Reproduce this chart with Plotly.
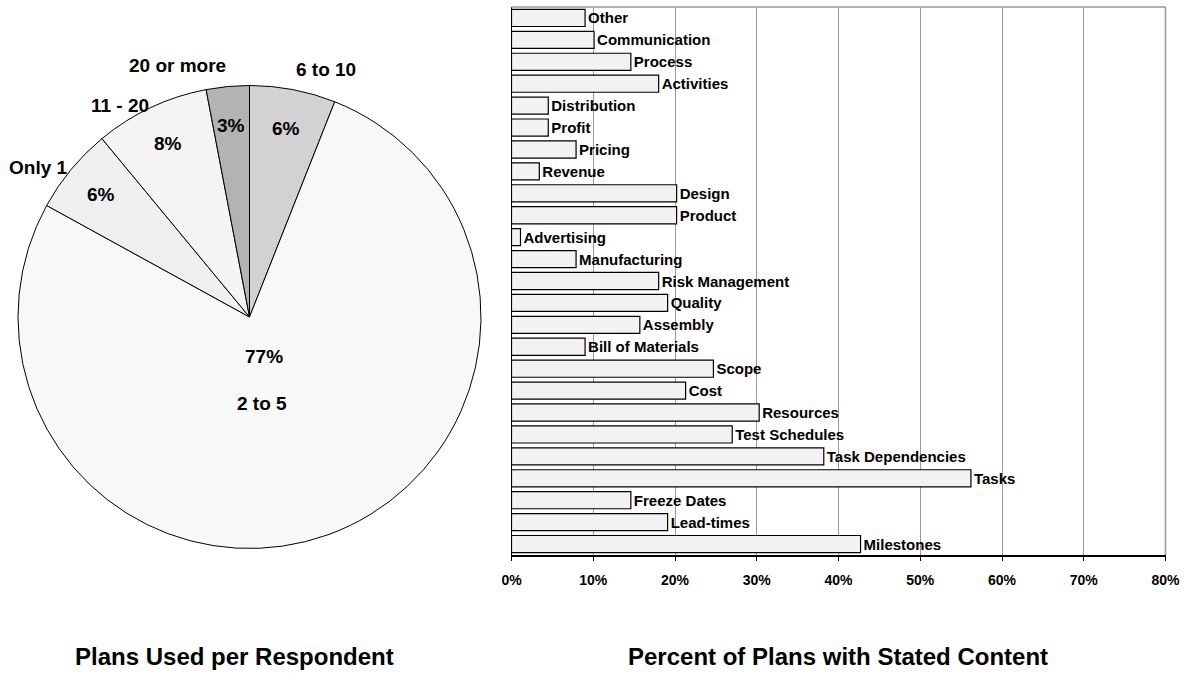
import math
import plotly.graph_objects as go

W, H = 1184, 673
FONT = "Liberation Sans, Arial, sans-serif"

# ---- pie data ----
pie_labels = ["6 to 10", "2 to 5", "Only 1", "11 - 20", "20 or more"]
pie_values = [6, 77, 6, 8, 3]
pie_colors = ["#D2D2D2", "#F8F8F8", "#EFEFEF", "#F4F4F4", "#B3B3B3"]

# ---- bar data (top to bottom) ----
bar_categories = ["Other", "Communication", "Process", "Activities", "Distribution",
                  "Profit", "Pricing", "Revenue", "Design", "Product", "Advertising",
                  "Manufacturing", "Risk Management", "Quality", "Assembly",
                  "Bill of Materials", "Scope", "Cost", "Resources", "Test Schedules",
                  "Task Dependencies", "Tasks", "Freeze Dates", "Lead-times", "Milestones"]
bar_values = [9.0, 10.1, 14.6, 18.0, 4.5, 4.5, 7.9, 3.4, 20.2, 20.2, 1.1,
              7.9, 18.0, 19.1, 15.7, 9.0, 24.7, 21.3, 30.3, 27.0,
              38.2, 56.2, 14.6, 19.1, 42.7]
x_ticks = [0, 10, 20, 30, 40, 50, 60, 70, 80]
x_ticklabels = ["0%", "10%", "20%", "30%", "40%", "50%", "60%", "70%", "80%"]

titles = ["Plans Used per Respondent", "Percent of Plans with Stated Content"]

# ---- layout geometry (pixels) ----
pie_cx, pie_cy, pie_r = 249.5, 317.0, 231.5
pie_dom_x = [(pie_cx - pie_r) / W, (pie_cx + pie_r) / W]
pie_dom_y = [1 - (pie_cy + pie_r) / H, 1 - (pie_cy - pie_r) / H]
bar_dom_x = [511.5 / W, 1165.5 / W]
bar_dom_y = [1 - 555.0 / H, 1 - 7.0 / H]

fig = go.Figure()

fig.add_trace(go.Pie(
    labels=pie_labels, values=pie_values, sort=False, direction="clockwise",
    rotation=0, textinfo="none", hoverinfo="label+percent",
    marker=dict(colors=pie_colors, line=dict(color="#000000", width=1)),
    domain=dict(x=pie_dom_x, y=pie_dom_y), showlegend=False,
))

fig.add_trace(go.Bar(
    x=bar_values, y=bar_categories, orientation="h",
    marker=dict(color="#F2F2F2", line=dict(color="#000000", width=1.2)),
    text=bar_categories, textposition="outside", constraintext="none",
    cliponaxis=False,
    textfont=dict(family=FONT, size=15, color="#000000", weight=700),
    xaxis="x", yaxis="y", showlegend=False,
))

annotations = []
total = sum(pie_values)


def px2paper(x, y):
    return x / W, 1 - y / H


cum = 0.0
for lab, v in zip(pie_labels, pie_values):
    share = v / total
    mid = (cum + share / 2) * 2 * math.pi
    cum += share
    sx, sy = math.sin(mid), math.cos(mid)  # sy positive = upward
    pct = f"{round(share * 100)}%"
    fnt = dict(family=FONT, size=19, color="#000", weight=700)
    if share > 0.5:
        rr = 0.18 * pie_r
        px, py = pie_cx + sx * rr, pie_cy - sy * rr
        ax, ay = px2paper(px, py)
        annotations.append(dict(x=ax, y=ay, xref="paper", yref="paper", text=pct,
                                showarrow=False, xanchor="center", yanchor="middle",
                                font=fnt))
        ax, ay = px2paper(px - 2, py + 47)
        annotations.append(dict(x=ax, y=ay, xref="paper", yref="paper", text=lab,
                                showarrow=False, xanchor="center", yanchor="middle",
                                font=fnt))
    else:
        rr = 0.83 * pie_r
        px, py = pie_cx + sx * rr, pie_cy - sy * rr
        ax, ay = px2paper(px, py)
        annotations.append(dict(x=ax, y=ay, xref="paper", yref="paper", text=pct,
                                showarrow=False, xanchor="center", yanchor="middle",
                                font=fnt))
        top = sy > 0.95
        ro = (1.04 if top else 1.01) * pie_r
        px, py = pie_cx + sx * ro, pie_cy - sy * ro
        ax, ay = px2paper(px, py)
        annotations.append(dict(x=ax, y=ay, xref="paper", yref="paper", text=lab,
                                showarrow=False, borderpad=0,
                                xanchor="left" if sx > 0 else "right",
                                yanchor="bottom" if top else "middle",
                                font=fnt))

for t, cx in zip(titles, [234.5, 837.5]):
    ax, ay = px2paper(cx, 656)
    annotations.append(dict(x=ax, y=ay, xref="paper", yref="paper", text=t,
                            showarrow=False, xanchor="center", yanchor="middle",
                            font=dict(family=FONT, size=24, color="#000", weight=700)))

shapes = [
    dict(type="line", xref="x domain", yref="y domain", x0=0, x1=1, y0=1, y1=1,
         line=dict(color="#999999", width=1.5)),
    dict(type="line", xref="x domain", yref="y domain", x0=1, x1=1, y0=0, y1=1,
         line=dict(color="#999999", width=1.5)),
]

fig.update_layout(
    width=W, height=H, margin=dict(l=0, r=0, t=0, b=0, autoexpand=False),
    paper_bgcolor="#FFFFFF", plot_bgcolor="#FFFFFF",
    font=dict(family=FONT, color="#000000"),
    bargap=0.22,
    xaxis=dict(domain=bar_dom_x, range=[0, 80], tickvals=x_ticks, ticktext=x_ticklabels,
               showgrid=True, gridcolor="#999999", gridwidth=1, zeroline=False,
               showline=True, linecolor="#000000", linewidth=1.5,
               ticks="outside", ticklen=4, tickcolor="#000000", ticklabelstandoff=7,
               tickfont=dict(family=FONT, size=14, color="#000", weight=700),
               anchor="y", fixedrange=True, automargin=False),
    yaxis=dict(domain=bar_dom_y, autorange="reversed", showticklabels=False,
               showgrid=False, zeroline=False, showline=True, linecolor="#000000",
               linewidth=1, ticks="", anchor="x", fixedrange=True, automargin=False),
    annotations=annotations, shapes=shapes,
)

fig.write_html("out.html")
